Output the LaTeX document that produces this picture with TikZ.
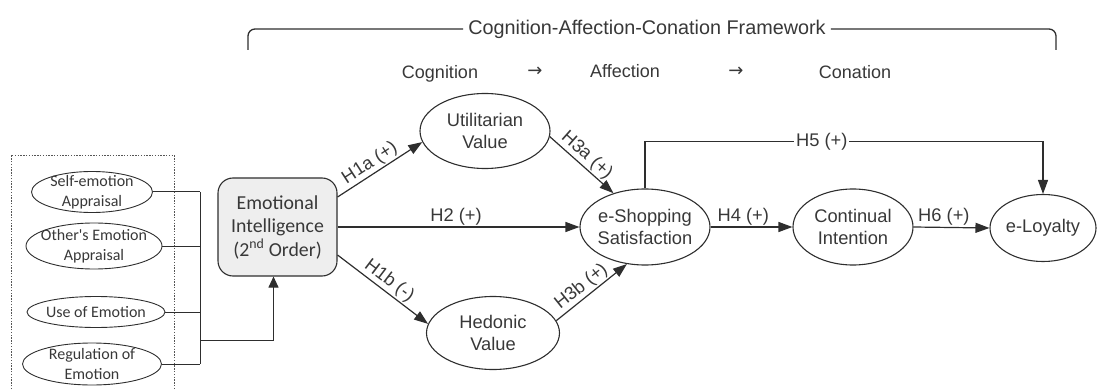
\documentclass[tikz,border=0pt]{standalone}
\usepackage{fontspec}
\setmainfont{Liberation Sans}
\newfontfamily\calfont{Carlito}
\newfontfamily\symfont{DejaVu Sans}
\usetikzlibrary{shapes.geometric,arrows.meta,calc}
\definecolor{ink}{HTML}{2E2E2E}
\definecolor{txt}{HTML}{383838}
\definecolor{boxfill}{HTML}{EEEEEE}
\definecolor{dashgray}{HTML}{555555}

\begin{document}
\begin{tikzpicture}[x=1pt,y=-1pt,
  every node/.style={text=txt},
  mainfont/.style={font=\fontsize{18.3}{21.5}\selectfont},
  constext/.style={align=center, text=txt, inner sep=0pt, mainfont},
  construct/.style={ellipse, draw=ink, line width=1.1pt, inner sep=0pt,
    label={[constext]center:{#1}}},
  dimtext/.style={align=center, text=txt, inner sep=0pt,
    font=\calfont\fontsize{16}{20}\selectfont},
  dim/.style={ellipse, draw=ink, line width=0.9pt, inner sep=0pt,
    label={[dimtext]center:{#1}}},
  latent/.style={rectangle, rounded corners=15pt, draw=ink, line width=1.1pt,
    fill=boxfill, align=center, inner sep=0pt,
    font=\calfont\fontsize{19.8}{23.5}\selectfont},
  link/.style={draw=ink, line width=1.2pt},
  arr/.style={link, -{Triangle[length=14pt,width=10pt]}},
  hyp/.style={mainfont, inner sep=1.5pt},
  phase/.style={font=\fontsize{18}{21}\selectfont, inner sep=0pt}
]
\useasboundingbox (0,0) rectangle (1097,390);

% framework bracket and phases
\node[phase, font=\fontsize{19.8}{23}\selectfont, inner xsep=5pt, fill=white] (title) at (647,29)
  {Cognition-Affection-Conation Framework};
\coordinate (bl) at (248,50);
\coordinate (br) at (1056,50);
\draw[link, line width=1.3pt, rounded corners=7pt] (bl) |- (title.west);
\draw[link, line width=1.3pt, rounded corners=7pt] (title.east) -| (br);

\node[phase] (cog) at (440,74) {Cognition};
\node[phase, font=\symfont\fontsize{18}{20}\selectfont] (ar1) at (535,72) {→};
\node[phase] (aff) at (625,71) {Affection};
\node[phase, font=\symfont\fontsize{18}{20}\selectfont] (ar2) at (736,72) {→};
\node[phase] (con) at (855,72) {Conation};

% first-order dimensions
\draw[dashgray, line width=0.7pt, dash pattern=on 1.4pt off 1.4pt]
  (11,392) -- (11,155) -- (174,155) -- (174,392);
\node[dim={Self-emotion\\Appraisal}, minimum width=121, minimum height=41] (se) at (92,192) {};
\node[dim={Other's Emotion\\Appraisal}, minimum width=136, minimum height=46] (oe) at (94,246) {};
\node[dim={Use of Emotion}, minimum width=138, minimum height=31] (ue) at (96,312) {};
\node[dim={Regulation of\\Emotion}, minimum width=139, minimum height=42] (re) at (92,364) {};

% second-order construct
\node[latent, minimum width=119, minimum height=98] (ei) at (277.5,227)
  {Emotional\\Intelligence\\(2\textsuperscript{nd} Order)};

\coordinate (jt) at (200,192);
\coordinate (jb) at (200,364);
\coordinate (jm) at (200,340);
\draw[link, line width=1pt] (se.east) -- (se.east -| jt);
\draw[link, line width=1pt] (oe.east) -- (oe.east -| jt);
\draw[link, line width=1pt] (ue.east) -- (ue.east -| jt);
\draw[link, line width=1pt] (re.east) -- (re.east -| jt);
\draw[link, line width=1pt] (jt) -- (jb);
\draw[link, line width=1pt, -{Triangle[length=11pt,width=10pt]}] (jm) -| ([xshift=-4pt]ei.south);

% structural model
\node[construct={Utilitarian\\Value}, minimum width=130, minimum height=75] (util) at (485,131) {};
\node[construct={Hedonic\\Value}, minimum width=133, minimum height=73] (hed) at (493,333) {};
\node[construct={e-Shopping\\Satisfaction}, minimum width=130, minimum height=76] (esat) at (645,227) {};
\node[construct={Continual\\Intention}, minimum width=120, minimum height=76] (cont) at (853,227) {};
\node[construct={e-Loyalty}, minimum width=106, minimum height=67] (loy) at (1043,228) {};

\draw[arr] ([yshift=30pt]ei.east) -- node[hyp, sloped, above, pos=0.45] {H1a (+)} (util.190);
\draw[arr] ([yshift=-28pt]ei.east) -- node[hyp, sloped, above, pos=0.5] {H1b (-)} (hed.172);
\draw[arr] (ei.east) -- node[hyp, above, pos=0.49] {H2 (+)} (esat.west);
\draw[arr] (util.-5) -- node[hyp, sloped, above, pos=0.47] {H3a (+)} (esat.133);
\draw[arr] (hed.11) -- node[hyp, sloped, above, pos=0.45] {H3b (+)} (esat.244);
\draw[arr] (esat.east) -- node[hyp, above, pos=0.4] {H4 (+)} (cont.west);
\draw[arr] (cont.east) -- node[hyp, above, pos=0.4] {H6 (+)} (loy.west);
\draw[arr] (esat.north) -- ++(0,-47) -| node[hyp, fill=white, inner xsep=2pt, pos=0.222] {H5 (+)} (loy.north);
\end{tikzpicture}
\end{document}
